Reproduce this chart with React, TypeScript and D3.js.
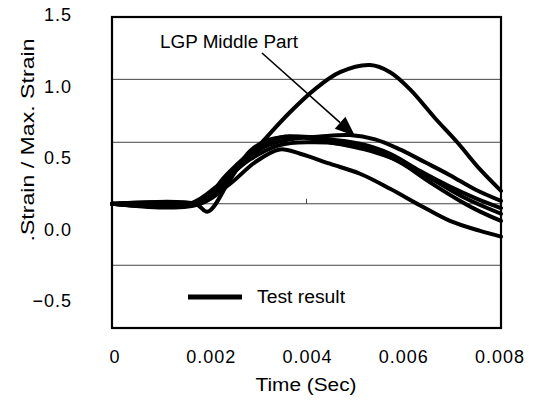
import React from "react";
import * as d3 from "d3";

const xTicks = [0, 0.002, 0.004, 0.006, 0.008];
const xTickLabels = ["0", "0.002", "0.004", "0.006", "0.008"];
const yTicks = [1.5, 1.0, 0.5, 0.0, -0.5];
const yTickLabels = ["1.5", "1.0", "0.5", "0.0", "\u22120.5"];
const gridValues = [1.05, 0.61, 0.18, -0.25];

const tA = [0, 0.001, 0.00171, 0.00202, 0.00263, 0.00311, 0.00366, 0.00417, 0.00469, 0.00531, 0.00572, 0.00613, 0.00664, 0.0071, 0.00757, 0.008];
const vA = [0.18, 0.19, 0.18, 0.25, 0.44, 0.62, 0.82, 0.98, 1.1, 1.15, 1.1, 0.98, 0.78, 0.61, 0.42, 0.27];

const tB = [0, 0.00171, 0.00212, 0.00263, 0.00315, 0.00366, 0.00428, 0.00489, 0.00541, 0.00592, 0.00644, 0.00695, 0.00747, 0.008];
const vB = [0.18, 0.18, 0.25, 0.44, 0.58, 0.63, 0.65, 0.66, 0.63, 0.56, 0.47, 0.38, 0.28, 0.2];

const tC = [0, 0.00171, 0.00197, 0.00243, 0.00284, 0.00325, 0.00387, 0.00448, 0.0051, 0.00572, 0.00633, 0.00695, 0.00747, 0.008];
const vC = [0.18, 0.18, 0.125, 0.35, 0.55, 0.63, 0.65, 0.63, 0.6, 0.53, 0.41, 0.3, 0.22, 0.15];

const tD = [0, 0.0016, 0.00222, 0.00284, 0.00345, 0.00407, 0.00469, 0.00531, 0.00592, 0.00654, 0.00716, 0.00757, 0.008];
const vD = [0.18, 0.18, 0.32, 0.49, 0.59, 0.61, 0.6, 0.56, 0.47, 0.33, 0.2, 0.125, 0.06];

const tF = [0, 0.00181, 0.00232, 0.00294, 0.00356, 0.00417, 0.00479, 0.00541, 0.00603, 0.00664, 0.00726, 0.008];
const vF = [0.18, 0.18, 0.37, 0.56, 0.65, 0.63, 0.59, 0.54, 0.46, 0.34, 0.22, 0.11];

const tE = [0, 0.00181, 0.00243, 0.00294, 0.00345, 0.00387, 0.00448, 0.0051, 0.00572, 0.00633, 0.00695, 0.00757, 0.008];
const vE = [0.18, 0.18, 0.32, 0.47, 0.56, 0.53, 0.46, 0.39, 0.285, 0.17, 0.06, -0.01, -0.05];

const series = [
  { t: tA, v: vA },
  { t: tB, v: vB },
  { t: tC, v: vC },
  { t: tD, v: vD },
  { t: tF, v: vF },
  { t: tE, v: vE },
];

const annotation = "LGP Middle Part";
const legendLabel = "Test result";
const xTitle = "Time (Sec)";
const yTitle = ".Strain / Max. Strain";

const FONT = "'Liberation Sans', Arial, sans-serif";

export default function App() {
  const W = 538;
  const H = 401;
  const left = 112, right = 501, top = 17, bottom = 328;
  const x = d3.scaleLinear().domain([0, 0.008]).range([left, right]);
  const xLab = d3.scaleLinear().domain([0, 0.008]).range([115, 500]);
  const y = d3.scaleLinear().domain([-0.5, 1.5]).range([301, 15]);

  const line = d3
    .line<[number, number]>()
    .x((d) => x(d[0]))
    .y((d) => y(d[1]))
    .curve(d3.curveCatmullRom.alpha(0.5));

  // arrow
  const ax1 = 262, ay1 = 53, ax2 = 355, ay2 = 136;
  const ang = Math.atan2(ay2 - ay1, ax2 - ax1);
  const hl = 20, hw = 8;
  const bx = ax2 - hl * Math.cos(ang), by = ay2 - hl * Math.sin(ang);
  const p1 = [bx + hw * Math.sin(ang), by - hw * Math.cos(ang)];
  const p2 = [bx - hw * Math.sin(ang), by + hw * Math.cos(ang)];

  return (
    <svg
      width={W}
      height={H}
      style={{ position: "absolute", left: 0, top: 0, background: "#fff" }}
      fontFamily={FONT}
    >
      <rect x={0} y={0} width={W} height={H} fill="#fff" />
      {gridValues.map((g, i) => (
        <line key={i} x1={left} x2={right} y1={y(g)} y2={y(g)} stroke="#444" strokeWidth={1} />
      ))}
      <line x1={x(0.004)} x2={x(0.004)} y1={y(0.18) - 5} y2={y(0.18)} stroke="#444" strokeWidth={1} />
      {series.map((s, i) => (
        <path
          key={i}
          d={line(s.t.map((t, j) => [t, s.v[j]] as [number, number])) || ""}
          fill="none"
          stroke="#000"
          strokeWidth={4}
          strokeLinejoin="round"
          strokeLinecap="round"
        />
      ))}
      <rect x={left} y={top} width={right - left} height={bottom - top} fill="none" stroke="#000" strokeWidth={2.2} />
      {yTicks.map((v, i) => (
        <text key={i} x={72} y={y(v)} textAnchor="end" dominantBaseline="central" fontSize={18} letterSpacing={1}>
          {yTickLabels[i]}
        </text>
      ))}
      {xTicks.map((t, i) => (
        <text key={i} x={xLab(t)} y={357} textAnchor="middle" dominantBaseline="central" fontSize={18} letterSpacing={1}>
          {xTickLabels[i]}
        </text>
      ))}
      <text x={306} y={385} textAnchor="middle" dominantBaseline="central" fontSize={18} textLength={101} lengthAdjust="spacingAndGlyphs">
        {xTitle}
      </text>
      <text
        transform={`translate(28,140) rotate(-90)`}
        textAnchor="middle"
        dominantBaseline="central"
        fontSize={18}
        textLength={203}
        lengthAdjust="spacingAndGlyphs"
      >
        {yTitle}
      </text>
      <text x={229} y={42} textAnchor="middle" dominantBaseline="central" fontSize={18} textLength={138} lengthAdjust="spacingAndGlyphs">
        {annotation}
      </text>
      <line x1={ax1} y1={ay1} x2={bx} y2={by} stroke="#000" strokeWidth={1.6} />
      <polygon points={`${ax2},${ay2} ${p1[0]},${p1[1]} ${p2[0]},${p2[1]}`} fill="#000" />
      <line x1={188} x2={242} y1={297} y2={297} stroke="#000" strokeWidth={5} />
      <text x={257} y={297} dominantBaseline="central" fontSize={18} textLength={88} lengthAdjust="spacingAndGlyphs">
        {legendLabel}
      </text>
    </svg>
  );
}
